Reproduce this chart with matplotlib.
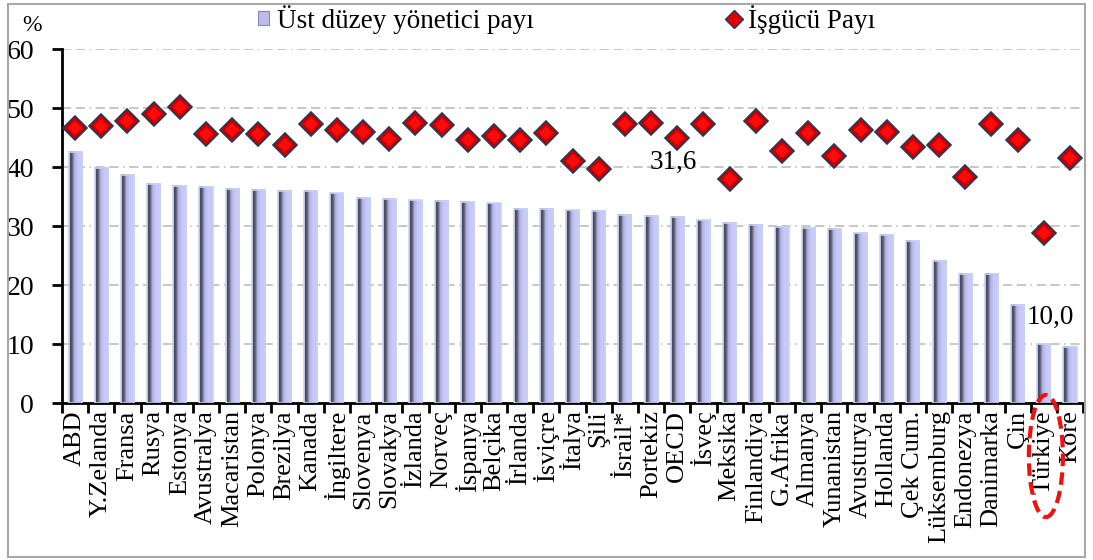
import numpy as np
import matplotlib
import matplotlib.pyplot as plt
from matplotlib.colors import LinearSegmentedColormap
from matplotlib.lines import Line2D
from matplotlib.patches import Patch, Ellipse, Rectangle
from matplotlib.transforms import blended_transform_factory

plt.rcParams['font.family'] = ['Liberation Serif', 'DejaVu Serif']

countries = ['ABD', 'Y.Zelanda', 'Fransa', 'Rusya', 'Estonya', 'Avustralya',
             'Macaristan', 'Polonya', 'Brezilya', 'Kanada', 'İngiltere',
             'Slovenya', 'Slovakya', 'İzlanda', 'Norveç', 'İspanya', 'Belçika',
             'İrlanda', 'İsviçre', 'İtalya', 'Şili', 'İsrail*', 'Portekiz',
             'OECD', 'İsveç', 'Meksika', 'Finlandiya', 'G.Afrika', 'Almanya',
             'Yunanistan', 'Avusturya', 'Hollanda', 'Çek Cum.', 'Lüksemburg',
             'Endonezya', 'Danimarka', 'Çin', 'Türkiye', 'Kore']

# üst düzey yönetici payı (%)
manager_share = [42.6, 39.9, 38.7, 37.2, 36.9, 36.7, 36.3, 36.2, 36.0, 36.0,
                 35.6, 34.8, 34.7, 34.4, 34.3, 34.1, 33.9, 32.9, 32.9, 32.7,
                 32.6, 32.0, 31.8, 31.6, 31.0, 30.6, 30.3, 29.9, 29.8, 29.5,
                 28.8, 28.5, 27.6, 24.1, 22.0, 21.9, 16.7, 10.0, 9.5]

# işgücü payı (%)
labour_share = [46.7, 47.0, 47.9, 49.0, 50.3, 45.6, 46.4, 45.6, 43.8, 47.4,
                46.4, 46.0, 44.8, 47.6, 47.2, 44.6, 45.4, 44.6, 45.8, 41.1,
                39.7, 47.3, 47.5, 44.9, 47.3, 38.0, 47.9, 42.8, 45.8, 42.0,
                46.3, 46.0, 43.4, 43.8, 38.4, 47.3, 44.7, 28.9, 41.6]

highlight = {'OECD': '31,6', 'Türkiye': '10,0'}

x = np.arange(len(countries))

fig = plt.figure(figsize=(10.93, 5.6), dpi=100)
ax = fig.add_axes([0.0567, 0.2798, 0.9342, 0.632])

# bars: outline first, then a horizontal gradient inside each one
bars = ax.bar(x, manager_share, width=0.5, facecolor='none',
              edgecolor='#c6d4f0', linewidth=1.2, zorder=3)
bar_cmap = LinearSegmentedColormap.from_list(
    'bar', [(0.0, '#a0a0c0'), (0.08, '#444458'), (0.2, '#55556e'),
            (0.4, '#b4b4e4'), (0.7, '#cacafc'), (1.0, '#c4c4f6')])
grad = np.linspace(0, 1, 64).reshape(1, -1)
for b in bars:
    ax.imshow(grad, cmap=bar_cmap, aspect='auto', zorder=2,
              extent=[b.get_x(), b.get_x() + b.get_width(), 0, b.get_height()])

# diamonds
ax.plot(x, labour_share, linestyle='none', marker='D', markersize=12.5,
        markerfacecolor='#c40000', markeredgecolor='#22395a',
        markeredgewidth=1.2, zorder=4)
ax.plot(x, labour_share, linestyle='none', marker='D', markersize=7,
        markerfacecolor='#ff0a0a', markeredgewidth=0, zorder=5)

ax.set_xlim(-0.5, len(countries) - 0.5)
ax.set_ylim(0, 60)

ax.set_yticks(np.arange(0, 61, 10))
ax.yaxis.grid(True, color='#b8b8b8', linewidth=1.1,
              linestyle=(0, (6, 3, 6, 3, 1, 3)), zorder=0)
ax.set_axisbelow(True)
ax.tick_params(axis='y', labelsize=20, length=7, width=2, pad=13)

ax.set_xticks(x)
ax.set_xticklabels(countries, rotation=90, fontsize=19)
ax.set_xticks(np.arange(-0.5, len(countries)), minor=True)
ax.tick_params(axis='x', which='major', length=0, pad=5)
ax.tick_params(axis='x', which='minor', length=7, width=2)

for side in ['top', 'right']:
    ax.spines[side].set_visible(False)
ax.spines['left'].set_linewidth(2)
ax.spines['bottom'].set_linewidth(2)

# value labels for OECD and Türkiye
oecd = countries.index('OECD')
ax.text(oecd - 0.15, manager_share[oecd] + 9.3, highlight['OECD'],
        ha='center', va='center', fontsize=19.5, zorder=6)
tr = countries.index('Türkiye')
ax.text(tr + 0.25, manager_share[tr] + 4.5, highlight['Türkiye'],
        ha='center', va='center', fontsize=19.5, zorder=6)

# dashed ellipse round the Türkiye label
trans = blended_transform_factory(ax.transData, ax.transAxes)
ax.add_patch(Ellipse((tr + 0.08, -0.149), 1.3, 0.345, transform=trans,
                     fill=False, edgecolor='#ee1111', linewidth=3,
                     linestyle=(0, (3, 1.5)), clip_on=False, zorder=7))

fig.text(0.029, 0.955, '%', fontsize=17, ha='center', va='center')

handles = [Patch(facecolor='#bcbcec', edgecolor='#8888aa', linewidth=0.8),
           Line2D([], [], linestyle='none', marker='D', markersize=9,
                  markerfacecolor='#e00000', markeredgecolor='#22395a')]
fig.legend(handles, ['Üst düzey yönetici payı', 'İşgücü Payı'], ncol=2,
           loc='center left', bbox_to_anchor=(0.226, 0.966), frameon=False,
           fontsize=19.5, handlelength=0.4, handleheight=0.45,
           handletextpad=0.3, columnspacing=7.2, borderaxespad=0)

fig.patches.append(Rectangle((0.0075, 0.005), 0.985, 0.988,
                             transform=fig.transFigure, fill=False,
                             edgecolor='#a8a8a8', linewidth=1.5))

fig.savefig('out.png', dpi=100)
